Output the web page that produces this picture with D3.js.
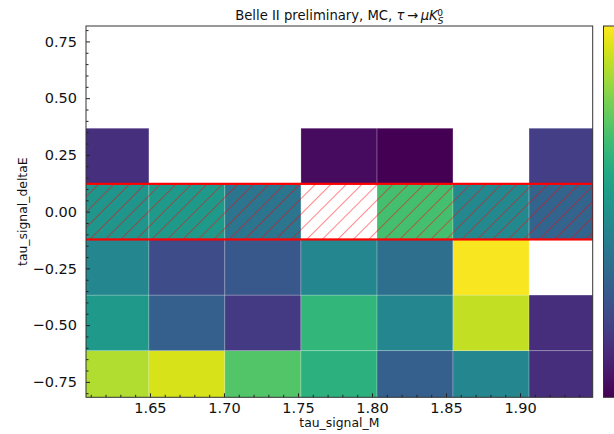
<!DOCTYPE html>
<html>
<head>
<meta charset="utf-8">
<script src="https://cdn.jsdelivr.net/npm/d3@7"></script>
<style>
  html, body { margin: 0; padding: 0; background: #fff; }
  svg { display: block; font-family: "DejaVu Sans", sans-serif; }
</style>
</head>
<body>
<svg id="chart" width="614" height="434"></svg>
<script>
// Bin edges of the 2D histogram (tau_signal_M vs tau_signal_deltaE)
const massEdges = [1.5979, 1.6493, 1.7006, 1.7520, 1.8034, 1.8547, 1.9061, 1.9575];
const deltaEEdges = [-0.8575, -0.6125, -0.3675, -0.1225, 0.1225, 0.3675];

// Normalised bin contents, one array per deltaE row (bottom to top); null = empty bin
const rowDE0 = [0.88, 0.94, 0.73, 0.64, 0.30, 0.46, 0.13];
const rowDE1 = [0.54, 0.30, 0.17, 0.66, 0.46, 0.91, 0.13];
const rowDE2 = [0.46, 0.23, 0.27, 0.46, 0.36, 0.99, null];
const rowDE3 = [0.52, 0.54, 0.39, null, 0.70, 0.47, 0.32];
const rowDE4 = [0.14, null, null, 0.03, 0.00, null, 0.18];
const rows = [rowDE0, rowDE1, rowDE2, rowDE3, rowDE4];

// Signal region in deltaE
const signalLow = -0.1225;
const signalHigh = 0.1225;

// Axis ranges and ticks
const massRange = [1.6068, 1.9491];
const deltaERange = [-0.818, 0.818];
const massTicks = [1.65, 1.70, 1.75, 1.80, 1.85, 1.90];
const deltaETicks = [-0.75, -0.50, -0.25, 0.00, 0.25, 0.50, 0.75];

const title = "Belle II preliminary, MC, ";
const xTitle = "tau_signal_M";
const yTitle = "tau_signal_deltaE";

const svg = d3.select("#chart");
const L = 86, R = 592.7, T = 26, B = 397.3;

const x = d3.scaleLinear().domain(massRange).range([L, R]);
const y = d3.scaleLinear().domain(deltaERange).range([B, T]);
const color = d3.scaleSequential(d3.interpolateViridis).domain([0, 1]);

const defs = svg.append("defs");
defs.append("clipPath").attr("id", "plotclip")
  .append("rect").attr("x", L).attr("y", T).attr("width", R - L).attr("height", B - T);

const hatch = defs.append("pattern").attr("id", "hatch")
  .attr("patternUnits", "userSpaceOnUse")
  .attr("width", 10.96).attr("height", 10.96)
  .attr("patternTransform", "translate(3,0) rotate(45)");
hatch.append("line").attr("x1", 0).attr("y1", 0).attr("x2", 0).attr("y2", 10.96)
  .attr("stroke", "red").attr("stroke-opacity", 0.6).attr("stroke-width", 1.6);

const plot = svg.append("g").attr("clip-path", "url(#plotclip)");

// Histogram cells
const cells = [];
rows.forEach((row, j) => row.forEach((v, i) => {
  if (v !== null) cells.push({ i, j, v });
}));
plot.selectAll("rect.cell").data(cells).enter().append("rect")
  .attr("class", "cell")
  .attr("x", d => x(massEdges[d.i]))
  .attr("y", d => y(deltaEEdges[d.j + 1]))
  .attr("width", d => x(massEdges[d.i + 1]) - x(massEdges[d.i]))
  .attr("height", d => y(deltaEEdges[d.j]) - y(deltaEEdges[d.j + 1]))
  .attr("fill", d => color(d.v))
  .attr("stroke", "rgba(255,255,255,0.28)")
  .attr("stroke-width", 0.8);

// Hatched signal band
plot.append("rect")
  .attr("x", x(massRange[0]) - 5)
  .attr("y", y(signalHigh))
  .attr("width", x(massRange[1]) - x(massRange[0]) + 10)
  .attr("height", y(signalLow) - y(signalHigh))
  .attr("fill", "url(#hatch)");
plot.append("rect")
  .attr("x", x(massRange[0]) - 5)
  .attr("y", y(signalHigh))
  .attr("width", x(massRange[1]) - x(massRange[0]) + 5.3)
  .attr("height", y(signalLow) - y(signalHigh))
  .attr("fill", "none").attr("stroke", "red").attr("stroke-width", 2.2);

// Axes (inward ticks on left and bottom)
const fmt = d => d3.format(".2f")(d).replace("-", "\u2212");
const xAxis = d3.axisBottom(x).tickValues(massTicks).tickFormat(fmt).tickSizeInner(-4).tickSizeOuter(0).tickPadding(5);
const yAxis = d3.axisLeft(y).tickValues(deltaETicks).tickFormat(fmt).tickSizeInner(-4).tickSizeOuter(0).tickPadding(9);

const xMinor = d3.range(1.61, 1.9491, 0.01).filter(v => !massTicks.some(t => Math.abs(t - v) < 1e-6));
const yMinor = d3.range(-0.80, 0.801, 0.05).filter(v => !deltaETicks.some(t => Math.abs(t - v) < 1e-6));

svg.append("g").attr("transform", `translate(0,${B})`)
  .call(d3.axisBottom(x).tickValues(xMinor).tickFormat("").tickSizeInner(-2.5).tickSizeOuter(0))
  .call(g => g.select(".domain").remove())
  .call(g => g.selectAll("line").attr("stroke", "#222"));
svg.append("g").attr("transform", `translate(${L},0)`)
  .call(d3.axisLeft(y).tickValues(yMinor).tickFormat("").tickSizeInner(-2.5).tickSizeOuter(0))
  .call(g => g.select(".domain").remove())
  .call(g => g.selectAll("line").attr("stroke", "#222"));

svg.append("g").attr("transform", `translate(0,${B})`).call(xAxis)
  .call(g => g.select(".domain").remove())
  .call(g => g.selectAll("line").attr("stroke", "#222"))
  .call(g => g.selectAll("text").attr("font-size", 14.5).attr("fill", "#111").attr("font-family", "DejaVu Sans"));
svg.append("g").attr("transform", `translate(${L},0)`).call(yAxis)
  .call(g => g.select(".domain").remove())
  .call(g => g.selectAll("line").attr("stroke", "#222"))
  .call(g => g.selectAll("text").attr("font-size", 14.5).attr("fill", "#111").attr("font-family", "DejaVu Sans"));

// Frame
svg.append("rect").attr("x", L).attr("y", T).attr("width", R - L).attr("height", B - T)
  .attr("fill", "none").attr("stroke", "#333").attr("stroke-width", 1);

// Colour bar (partly outside the canvas)
const cbGrad = defs.append("linearGradient").attr("id", "cbgrad")
  .attr("x1", 0).attr("y1", 1).attr("x2", 0).attr("y2", 0);
d3.range(0, 1.0001, 0.05).forEach(t => {
  cbGrad.append("stop").attr("offset", t).attr("stop-color", d3.interpolateViridis(t));
});
svg.append("rect").attr("x", 603.5).attr("y", T).attr("width", 22).attr("height", B - T)
  .attr("fill", "url(#cbgrad)").attr("stroke", "#333").attr("stroke-width", 1);

// Titles
const tt = svg.append("text").attr("x", (L + R) / 2).attr("y", 20)
  .attr("text-anchor", "middle").attr("font-size", 13.2).attr("fill", "#111");
tt.append("tspan").text(title);
tt.append("tspan").attr("font-style", "italic").text("\u03c4");
tt.append("tspan").text("\u2009\u2192\u2009");
tt.append("tspan").attr("font-style", "italic").text("\u03bcK");
tt.append("tspan").attr("font-style", "italic").attr("font-size", 9).attr("dy", 3.5).text("S");
tt.append("tspan").attr("font-size", 9).attr("dx", -6.2).attr("dy", -8).text("0");

svg.append("text").attr("x", (L + R) / 2).attr("y", 427)
  .attr("text-anchor", "middle").attr("font-size", 12.4).attr("fill", "#111").text(xTitle);
svg.append("text").attr("transform", `translate(27,${(T + B) / 2}) rotate(-90)`)
  .attr("text-anchor", "middle").attr("font-size", 12.4).attr("fill", "#111").text(yTitle);
</script>
</body>
</html>
